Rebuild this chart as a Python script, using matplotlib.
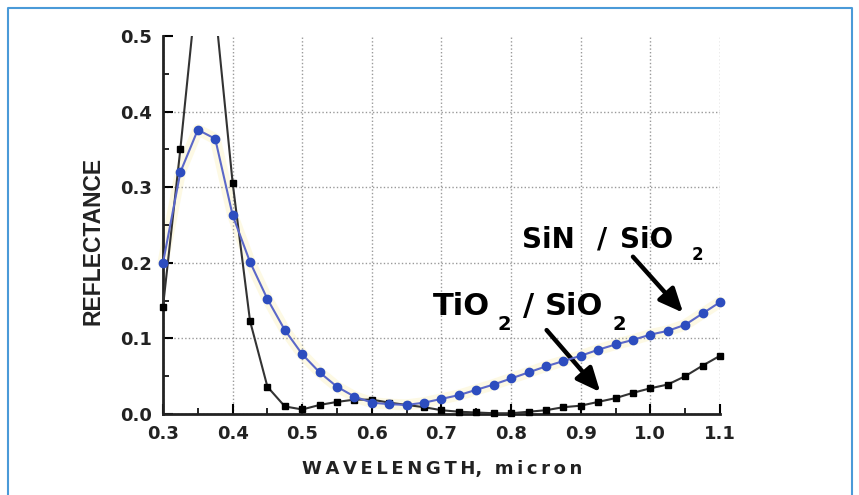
import numpy as np
import matplotlib.pyplot as plt
from matplotlib.patches import Rectangle
from matplotlib.lines import Line2D

# wavelength, micron
wavelength = [0.300, 0.325, 0.350, 0.375, 0.400, 0.425, 0.450, 0.475, 0.500,
              0.525, 0.550, 0.575, 0.600, 0.625, 0.650, 0.675, 0.700, 0.725,
              0.750, 0.775, 0.800, 0.825, 0.850, 0.875, 0.900, 0.925, 0.950,
              0.975, 1.000, 1.025, 1.050, 1.075, 1.100]

# TiO2 / SiO2 coating
refl_tio2 = [0.142, 0.351, 0.577, 0.537, 0.306, 0.123, 0.036, 0.010, 0.006,
             0.012, 0.016, 0.019, 0.019, 0.015, 0.012, 0.009, 0.005, 0.003,
             0.002, 0.001, 0.001, 0.003, 0.005, 0.009, 0.011, 0.016, 0.021,
             0.028, 0.034, 0.039, 0.050, 0.064, 0.077]

# SiN / SiO2 coating
refl_sin = [0.200, 0.320, 0.376, 0.364, 0.263, 0.201, 0.152, 0.111, 0.079,
            0.055, 0.036, 0.023, 0.015, 0.013, 0.012, 0.015, 0.020, 0.025,
            0.032, 0.039, 0.047, 0.055, 0.063, 0.070, 0.077, 0.085, 0.092,
            0.098, 0.105, 0.110, 0.118, 0.133, 0.148]

x_ticks = [0.3, 0.4, 0.5, 0.6, 0.7, 0.8, 0.9, 1.0, 1.1]
y_ticks = [0.0, 0.1, 0.2, 0.3, 0.4, 0.5]

BOLD = dict(family=['DejaVu Sans'], weight='bold')

fig = plt.figure(figsize=(8.59, 4.95), dpi=100)
ax = fig.add_axes([163 / 859, 81 / 495, 557 / 859, 378 / 495])

# рамка вокруг рисунка (снизу открыта)
bx0, bx1, by1 = 8 / 859, 852 / 859, 1 - 8 / 495
fig.add_artist(Line2D([bx0, bx0, bx1, bx1], [-0.05, by1, by1, -0.05],
                      transform=fig.transFigure, color='#4a9ad8', lw=1.5))

clip = Rectangle((-0.03, -0.05), 1.06, 1.05, transform=ax.transAxes,
                 fill=False, visible=False)
ax.add_patch(clip)

# бледный желтоватый ореол вокруг синей кривой
halo, = ax.plot(wavelength, refl_sin, color='#fbf3c4', lw=8, alpha=0.45,
                solid_capstyle='round', zorder=1)
l1, = ax.plot(wavelength, refl_tio2, color='#333333', lw=1.5, marker='s',
              ms=5, mfc='black', mec='black', zorder=3)
l2, = ax.plot(wavelength, refl_sin, color='#5b68c8', lw=1.5, marker='o',
              ms=6, mfc='#2d4dbf', mec='#2d4dbf', zorder=4)
for ln in (halo, l1, l2):
    ln.set_clip_path(clip)

ax.set_xlim(0.3, 1.1)
ax.set_ylim(0.0, 0.5)
ax.set_xticks(x_ticks)
ax.set_yticks(y_ticks)
ax.set_xticks(np.array(x_ticks[:-1]) + 0.05, minor=True)
ax.set_yticks(np.array(y_ticks[:-1]) + 0.05, minor=True)
ax.set_xticklabels(['%.1f' % v for v in x_ticks])
ax.set_yticklabels(['%.1f' % v for v in y_ticks])
for lab in ax.get_xticklabels() + ax.get_yticklabels():
    lab.set_fontfamily('DejaVu Sans')
    lab.set_fontweight('bold')
    lab.set_fontsize(13)
    lab.set_color('#222222')

ax.tick_params(which='major', direction='in', length=7, width=1.5, pad=8)
ax.tick_params(which='minor', direction='in', length=4, width=1.2)

ax.grid(True, which='major', color='#9a9a9a', lw=1, ls=(0, (1, 1.6)))
ax.yaxis.get_gridlines()[-1].set_visible(False)

for s in ('top', 'right'):
    ax.spines[s].set_visible(False)
for s in ('left', 'bottom'):
    ax.spines[s].set_linewidth(2)
    ax.spines[s].set_color('#222222')

ax.set_xlabel('W\u2009A\u2009V\u2009E\u2009L\u2009E\u2009N\u2009G\u2009T\u2009H,  '
              'm\u2009i\u2009c\u2009r\u2009o\u2009n',
              fontsize=13, va='center', color='#222222', **BOLD)
ax.xaxis.set_label_coords(0.502, -0.1455)
ax.set_ylabel('REFLECTANCE', fontsize=16.5, family=['Liberation Sans'],
              weight='bold', va='center', color='#222222')
ax.yaxis.set_label_coords(-0.126, 0.458)

# подписи кривых: (x, y, текст, размер)
labels = [
    (0.8156, 0.2196, 'SiN', 20), (0.9234, 0.2196, '/', 20),
    (0.9564, 0.2196, 'SiO', 20), (1.0598, 0.2037, '2', 12),
    (0.6878, 0.1310, 'TiO', 22), (0.7811, 0.1111, '2', 14),
    (0.8171, 0.1310, '/', 22), (0.8486, 0.1310, 'SiO', 22),
    (0.9463, 0.1111, '2', 14),
]
for lx, ly, txt, size in labels:
    ax.text(lx, ly, txt, fontsize=size, ha='left', va='baseline', **BOLD)

arrow = dict(arrowstyle='-|>,head_length=0.9,head_width=0.4', lw=3.2,
             color='black', shrinkA=0, shrinkB=0, mutation_scale=16)
ax.annotate('', xy=(1.047, 0.134), xytext=(0.975, 0.208), arrowprops=arrow)
ax.annotate('', xy=(0.928, 0.029), xytext=(0.851, 0.111), arrowprops=arrow)

fig.savefig('out.png', dpi=100)
